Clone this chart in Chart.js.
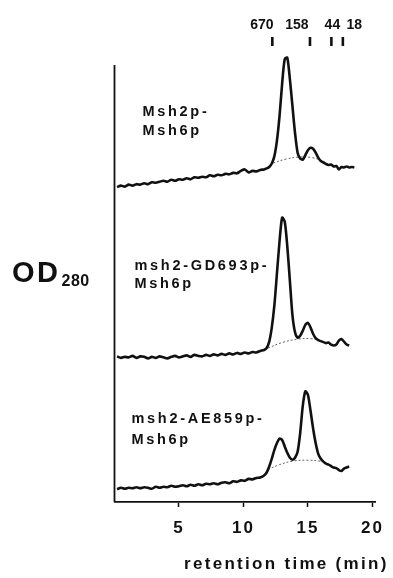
<!DOCTYPE html>
<html>
<head>
<meta charset="utf-8">
<script src="https://cdn.jsdelivr.net/npm/chart.js@4.4.1/dist/chart.umd.min.js"></script>
<style>
  html, body { margin: 0; padding: 0; background: #fff; }
  #wrap { width: 393px; height: 578px; position: relative; }
</style>
</head>
<body>
<div id="wrap"><canvas id="chart"></canvas></div>
<script>
// retention time (min) shared by the three traces
const times = [
  0.2, 0.5, 0.8, 1.1, 1.4, 1.7, 2.0, 2.3, 2.6, 2.9, 3.2, 3.5, 3.8, 4.1, 4.4, 4.7, 5.0, 5.3, 5.6, 5.9,
  6.2, 6.5, 6.8, 7.1, 7.4, 7.7, 8.0, 8.3, 8.6, 8.9, 9.2, 9.5, 9.8, 10.1, 10.4, 10.7, 11.0, 11.3, 11.6,
  11.8, 12.0, 12.2, 12.4, 12.6, 12.8, 13.0, 13.2, 13.4, 13.6, 13.8, 14.0, 14.2, 14.4, 14.6, 14.8, 15.0,
  15.2, 15.4, 15.6, 15.8, 16.0, 16.2, 16.4, 16.6, 16.8, 17.0, 17.2, 17.4, 17.6, 17.8, 18.0, 18.2, 18.4, 18.6
];

// OD280 traces (stacked, arbitrary units incl. offset)
const msh2Msh6 = [
  64.0, 64.3, 64.1, 64.5, 64.3, 64.6, 64.5, 64.8, 64.6, 65.0, 64.9, 65.1, 65.3, 65.1, 65.5, 65.3, 65.6, 65.5, 65.8, 65.6,
  66.0, 65.9, 66.1, 66.0, 66.4, 66.2, 66.5, 66.4, 66.7, 66.6, 66.9, 66.8, 67.3, 67.6, 67.0, 67.3, 67.2, 67.5, 67.6,
  67.8, 68.1, 68.8, 70.3, 73.5, 78.5, 85.0, 90.0, 90.3, 86.0, 80.5, 75.0, 71.0, 69.8, 69.6, 70.5, 71.5,
  72.0, 71.8, 71.0, 70.0, 69.3, 69.0, 68.7, 68.5, 68.6, 68.2, 68.3, 67.6, 68.1, 68.0, 68.2, 68.0, 68.1, 68.0
];
const gd693Msh6 = [
  29.6, 29.3, 29.5, 29.4, 29.7, 29.3, 29.6, 29.5, 29.2, 29.5, 29.3, 29.6, 29.4, 29.2, 29.5, 29.7, 29.4, 29.6, 29.8, 29.5,
  29.9, 29.7, 29.6, 29.9, 29.7, 30.0, 29.8, 30.1, 29.9, 30.2, 30.0, 30.3, 30.1, 30.4, 30.2, 30.5, 30.4, 30.7, 30.9,
  31.3, 32.6, 35.5, 40.0, 46.5, 53.0, 57.8, 57.0, 52.0, 45.0, 38.0, 34.5, 33.4, 33.8, 34.8, 36.0, 36.4,
  35.5, 34.2, 33.3, 32.9, 32.7, 32.5, 32.3, 32.4, 32.0, 31.8, 32.0, 32.8, 33.1, 32.6, 32.0, 31.8, null, null
];
const ae859Msh6 = [
  2.6, 2.9, 2.7, 2.9, 2.8, 3.0, 2.8, 3.0, 2.9, 2.7, 3.1, 2.9, 3.1, 3.0, 3.3, 3.1, 3.2, 3.4, 3.2, 3.5,
  3.3, 3.6, 3.4, 3.7, 3.6, 3.8, 3.6, 3.9, 4.0, 3.8, 4.2, 4.1, 4.4, 4.3, 4.7, 4.6, 4.9, 5.0, 5.4,
  6.0, 7.2, 8.8, 10.6, 12.0, 12.9, 12.6, 11.3, 10.0, 9.0, 8.6, 9.0, 10.2, 14.0, 19.5, 22.5, 21.8,
  18.6, 15.0, 12.0, 9.8, 8.8, 8.2, 7.8, 7.6, 7.3, 7.0, 6.9, 6.5, 6.3, 6.8, 7.0, 7.2, null, null
];

// dotted baselines under the peaks
const base1Times = [12.3, 13.3, 14.3, 15.3, 16.3];
const base1Vals = [68.9, 69.7, 70.1, 70.0, 69.2];
const base2Times = [11.9, 13.0, 14.2, 15.2, 16.0];
const base2Vals = [31.3, 32.4, 33.1, 33.2, 32.8];
const base3Times = [11.9, 12.8, 13.8, 15.0, 16.0];
const base3Vals = [6.6, 7.6, 8.3, 8.5, 8.3];

// size standards (kDa) at the top
const markerTimes = [12.24, 15.16, 16.82, 17.71];
const markerLabels = ["670", "158", "44", "18"];
const markerLevel = 93.6;

const xTicks = [5, 10, 15, 20];
const yAxisTop = 88.8;
const traceNames = [
  ["Msh2p-", "Msh6p"],
  ["msh2-GD693p-", "Msh6p"],
  ["msh2-AE859p-", "Msh6p"],
];

const FONT = "'Liberation Sans', Arial, Helvetica, sans-serif";
const INK = "#111";

function points(xs, ys) {
  return xs.map((x, i) => ({ x: x, y: ys[i] }));
}

function spacedText(ctx, text, x, y, size, spacing) {
  ctx.font = `bold ${size}px ${FONT}`;
  ctx.letterSpacing = spacing + "px";
  ctx.fillText(text, x, y);
  ctx.letterSpacing = "0px";
}

const tracePlugin = {
  id: "traceDecor",
  beforeDraw(chart) {
    // tick labels in the original are letter-spaced
    chart.ctx.letterSpacing = "2px";
  },
  beforeDatasetsDraw(chart) {
    chart.ctx.letterSpacing = "0px";
  },
  afterDraw(chart) {
    const ctx = chart.ctx;
    const xs = chart.scales.x;
    const ys = chart.scales.y;
    ctx.save();

    // y axis line, shorter than the plot area
    const left = chart.chartArea.left;
    ctx.strokeStyle = INK;
    ctx.lineWidth = 1.8;
    ctx.beginPath();
    ctx.moveTo(left, ys.getPixelForValue(0));
    ctx.lineTo(left, ys.getPixelForValue(yAxisTop));
    ctx.stroke();

    ctx.fillStyle = INK;
    ctx.textBaseline = "alphabetic";
    ctx.textAlign = "left";

    // OD280
    spacedText(ctx, "OD", 12, 282, 29, 2.5);
    spacedText(ctx, "280", 61.5, 285.5, 16, 0.5);

    // trace names
    const namePos = [
      [142.5, 116, 134.5],
      [134.5, 269.5, 287.5],
      [131.5, 422.5, 444],
    ];
    traceNames.forEach((lines, i) => {
      const p = namePos[i];
      spacedText(ctx, lines[0], p[0], p[1], 14.5, 2.7);
      spacedText(ctx, lines[1], p[0], p[2], 14.5, 2.7);
    });

    // size standard labels
    const labelShift = [-10.5, -13, 1, 11.5];
    ctx.textAlign = "center";
    markerTimes.forEach((t, i) => {
      spacedText(ctx, markerLabels[i], xs.getPixelForValue(t) + labelShift[i], 28.5, 14, 0);
    });

    // x axis title
    ctx.textAlign = "left";
    spacedText(ctx, "retention time (min)", 184, 569, 17, 2.3);
    ctx.restore();
  },
};

const lineStyle = {
  borderColor: INK,
  borderWidth: 2.6,
  pointRadius: 0,
  tension: 0.25,
  fill: false,
};
const dotStyle = {
  borderColor: "#666",
  borderWidth: 1,
  borderDash: [2, 2],
  pointRadius: 0,
  tension: 0.4,
  fill: false,
};

new Chart(document.getElementById("chart"), {
  type: "line",
  data: {
    datasets: [
      { label: "Msh2p-Msh6p", data: points(times, msh2Msh6), ...lineStyle },
      { label: "msh2-GD693p-Msh6p", data: points(times, gd693Msh6), ...lineStyle },
      { label: "msh2-AE859p-Msh6p", data: points(times, ae859Msh6), ...lineStyle },
      { label: "base 1", data: points(base1Times, base1Vals), ...dotStyle },
      { label: "base 2", data: points(base2Times, base2Vals), ...dotStyle },
      { label: "base 3", data: points(base3Times, base3Vals), ...dotStyle },
      {
        label: "standards",
        data: markerTimes.map((t) => ({ x: t, y: markerLevel })),
        showLine: false,
        pointStyle: "line",
        rotation: 90,
        pointRadius: 4.5,
        borderWidth: 2.6,
        borderColor: INK,
      },
    ],
  },
  options: {
    responsive: true,
    maintainAspectRatio: false,
    animation: false,
    devicePixelRatio: 1,
    layout: { padding: { left: 114.5, right: 13, top: 10, bottom: 0 } },
    plugins: {
      legend: { display: false },
      tooltip: { enabled: false },
    },
    scales: {
      x: {
        type: "linear",
        min: 0,
        max: 20.25,
        border: { display: true, color: INK, width: 1.8 },
        grid: {
          drawOnChartArea: false,
          drawTicks: true,
          tickLength: 5,
          tickWidth: 1.5,
          tickColor: INK,
        },
        ticks: {
          padding: 11,
          color: INK,
          maxRotation: 0,
          font: { family: FONT, size: 17, weight: "bold" },
        },
        afterBuildTicks: (scale) => {
          scale.ticks = xTicks.map((v) => ({ value: v }));
        },
        afterFit: (scale) => {
          scale.height = 76;
        },
      },
      y: {
        display: false,
        min: 0,
        max: 100,
      },
    },
  },
  plugins: [tracePlugin],
});
</script>
</body>
</html>
